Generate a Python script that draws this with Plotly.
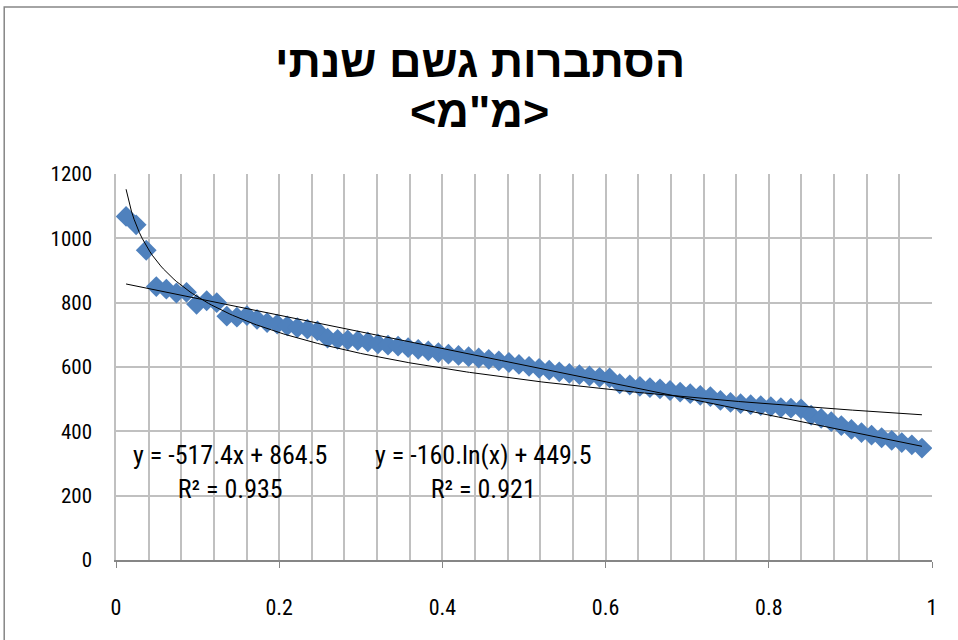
import numpy as np
import plotly.graph_objects as go

# exceedance probability (rank / (n+1)), n = 80
rank = list(range(1, 81))
n_obs = 80
rain_mm = [1068, 1042, 963, 850, 842, 830, 832, 795, 806, 800,
           758, 755, 760, 748, 738, 733, 728, 722, 718, 712,
           690, 686, 684, 682, 678, 672, 668, 665, 660, 655,
           650, 645, 640, 636, 632, 628, 624, 619, 614, 608,
           602, 596, 590, 585, 580, 576, 572, 568, 566, 548,
           544, 540, 536, 532, 527, 522, 517, 512, 508, 496,
           490, 486, 483, 480, 477, 474, 472, 470, 450, 440,
           430, 418, 406, 396, 388, 380, 372, 365, 358, 348]

# trendline coefficients as printed on the chart
lin_slope, lin_icpt, lin_r2 = -517.4, 864.5, 0.935
log_coef, log_icpt, log_r2 = -160.0, 449.5, 0.921

title_line1 = "הסתברות גשם שנתי"
title_line2 = "<מ\"מ>"

x_ticks = [0, 0.2, 0.4, 0.6, 0.8, 1]
x_tick_text = ["0", "0.2", "0.4", "0.6", "0.8", "1"]
y_ticks = [0, 200, 400, 600, 800, 1000, 1200]

prob = [r / (n_obs + 1) for r in rank]
xs = np.linspace(prob[0], prob[-1], 300)

narrow = "Liberation Sans Narrow, Roboto Condensed, Liberation Sans"

fig = go.Figure()
fig.add_trace(go.Scatter(
    x=prob, y=rain_mm, mode="markers",
    marker=dict(symbol="diamond", size=16, color="#4F81BD", line=dict(width=0)),
    showlegend=False))
fig.add_trace(go.Scatter(
    x=xs, y=lin_slope * xs + lin_icpt, mode="lines",
    line=dict(color="black", width=1), showlegend=False))
fig.add_trace(go.Scatter(
    x=xs, y=log_coef * np.log(xs) + log_icpt, mode="lines",
    line=dict(color="black", width=1), showlegend=False))

grid = "#c0c0c0"
fig.update_xaxes(range=[0, 1], tickvals=x_ticks, ticktext=x_tick_text,
                 showgrid=True, gridcolor=grid, gridwidth=1.5,
                 minor=dict(dtick=0.04, showgrid=True, gridcolor=grid, gridwidth=1.5),
                 showline=True, linecolor="#868686", linewidth=1.5,
                 ticks="outside", ticklen=6, tickcolor="#868686",
                 ticklabelstandoff=21, zeroline=False,
                 tickfont=dict(family=narrow, size=22, color="black"))
fig.update_yaxes(range=[0, 1200], tickvals=y_ticks,
                 showgrid=True, gridcolor=grid, gridwidth=1.5,
                 showline=True, linecolor=grid, linewidth=1.5,
                 ticks="", ticklabelstandoff=18, zeroline=False,
                 tickfont=dict(family=narrow, size=21, color="black"))

fig.add_annotation(x=0.14, y=275, xref="x", yref="y", showarrow=False,
                   text=f"y = {lin_slope}x + {lin_icpt}<br>R² = {lin_r2}",
                   align="center", font=dict(family=narrow, size=26, color="black"))
fig.add_annotation(x=0.45, y=275, xref="x", yref="y", showarrow=False,
                   text=f"y = {log_coef:.0f}.ln(x) + {log_icpt}<br>R² = {log_r2}",
                   align="center", font=dict(family=narrow, size=26, color="black"))

fig.add_annotation(x=0.446, y=1.3625, xref="paper", yref="paper", showarrow=False,
                   text=f"<b>{title_line1}</b>", font=dict(family="Liberation Sans", size=45, color="black"))
fig.add_annotation(x=0.446, y=1.2325, xref="paper", yref="paper", showarrow=False,
                   text=f"<b>{title_line2}</b>", font=dict(family="Liberation Sans", size=45, color="black"))

fig.add_shape(type="rect", xref="paper", yref="paper",
              x0=-0.137, x1=1.3, y0=-0.5, y1=1.4326,
              line=dict(color="#868686", width=1.5), layer="below")

fig.update_layout(width=958, height=640, autosize=False,
                  margin=dict(l=116, r=26, t=174, b=80),
                  plot_bgcolor="white", paper_bgcolor="white")
fig.write_html("out.html", config={"displayModeBar": False},
               post_script="document.body.style.margin='0';")
